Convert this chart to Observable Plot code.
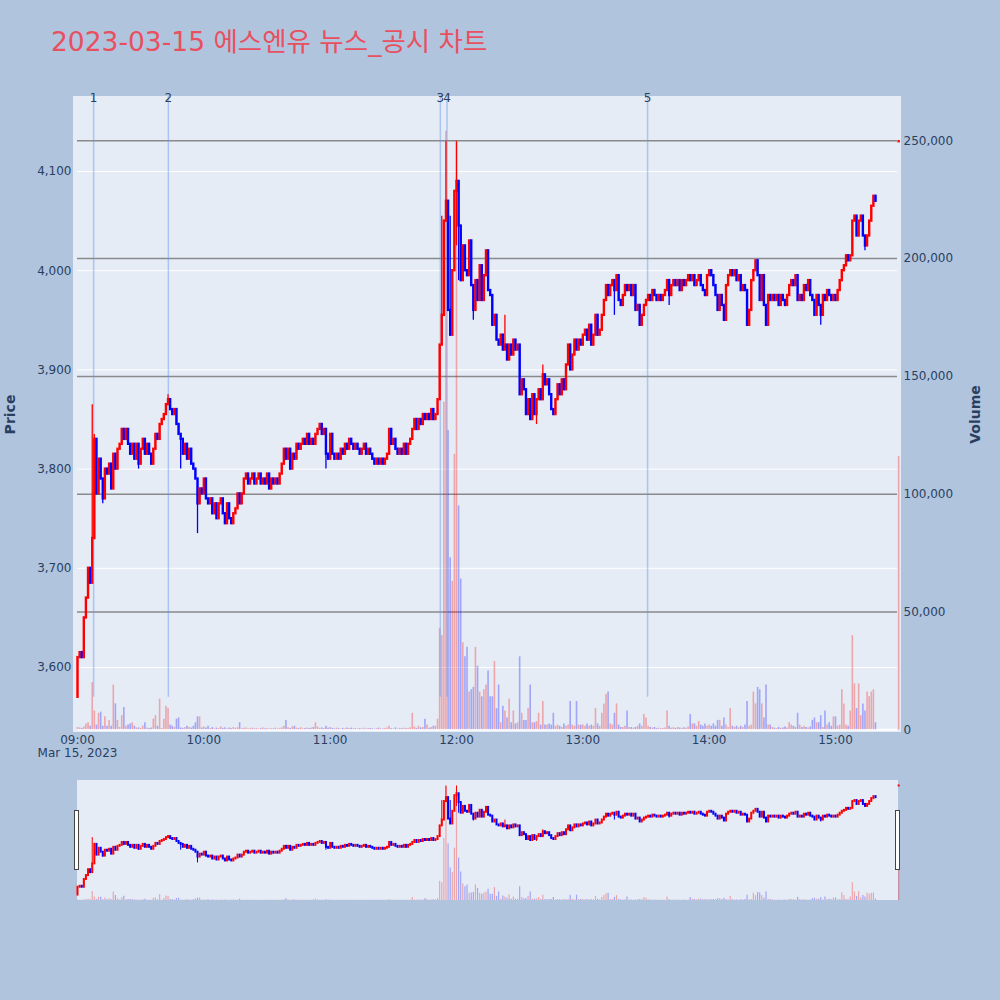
<!DOCTYPE html>
<html><head><meta charset="utf-8">
<script src="https://cdn.jsdelivr.net/npm/d3@7"></script>
<script src="https://cdn.jsdelivr.net/npm/@observablehq/plot@0.6"></script>
<style>
html,body{margin:0;padding:0;background:#B0C4DE;}
#root{position:relative;width:1000px;height:1000px;background:#B0C4DE;overflow:hidden;font-family:"DejaVu Sans",sans-serif;}
.abs{position:absolute;}
</style></head>
<body><div id="root"></div>
<script>
// ---------------- DATA ----------------
const chartTitle = "2023-03-15 에스엔유 뉴스_공시 차트";
const tradeDate = "2023-03-15";
const dateLabel = "Mar 15, 2023";
const sessionStart = "09:00";
const firstOpen = 3570;
// one close per minute from 09:00 (open of each minute = previous close)
const closes = [
3610,3615,3610,3650,3670,3700,3685,3730,3830,3775,
3810,3790,3770,3800,3795,3805,3780,3815,3800,3820,
3825,3840,3830,3840,3825,3815,3825,3810,3825,3805,
3820,3830,3815,3825,3815,3805,3820,3835,3830,3845,
3850,3855,3865,3870,3860,3855,3860,3845,3835,3830,
3815,3825,3810,3820,3805,3800,3790,3765,3780,3775,
3790,3770,3765,3770,3755,3765,3750,3765,3770,3755,
3745,3765,3750,3745,3755,3760,3775,3765,3775,3790,
3795,3785,3790,3795,3785,3790,3795,3785,3790,3785,
3795,3780,3790,3785,3790,3785,3795,3805,3820,3810,
3820,3800,3815,3810,3825,3820,3825,3830,3825,3835,
3825,3830,3825,3835,3840,3845,3835,3840,3815,3810,
3835,3815,3810,3815,3810,3820,3815,3825,3820,3830,
3825,3820,3825,3820,3815,3820,3825,3815,3820,3815,
3810,3805,3810,3805,3810,3805,3810,3815,3840,3825,
3830,3820,3815,3820,3815,3825,3815,3825,3830,3840,
3850,3840,3850,3845,3855,3850,3855,3850,3860,3850,
3855,3870,3925,3955,4050,4070,3960,3935,4000,4080,
4090,4045,3990,4025,4000,3995,4030,3985,3960,3990,
3970,4005,3970,3995,4020,3980,3975,3945,3955,3930,
3925,3935,3920,3925,3910,3925,3915,3930,3920,3925,
3875,3890,3880,3855,3870,3850,3875,3855,3870,3880,
3870,3895,3885,3890,3875,3860,3855,3870,3885,3875,
3890,3880,3905,3925,3900,3915,3930,3920,3930,3925,
3935,3940,3930,3945,3925,3935,3955,3935,3940,3955,
3970,3985,3975,3985,3990,3980,3995,3970,3965,3975,
3985,3980,3985,3975,3985,3960,3965,3945,3955,3965,
3970,3975,3970,3980,3975,3970,3975,3970,3975,3980,
3990,3975,3985,3990,3985,3990,3980,3990,3985,3990,
3995,3990,3995,3985,3990,3995,3985,3980,3975,3995,
4000,3995,3985,3975,3960,3975,3965,3950,3985,3995,
4000,3995,4000,3990,3995,3980,3985,3980,3945,3960,
3990,4000,4010,3995,3970,3995,3965,3945,3975,3970,
3975,3970,3975,3965,3975,3970,3965,3975,3985,3990,
3985,3995,3970,3975,3970,3985,3980,3990,3975,3970,
3955,3975,3965,3955,3975,3970,3980,3975,3970,3975,
3970,3980,3990,4000,4005,4015,4010,4015,4050,4055,
4035,4050,4055,4035,4025,4035,4050,4065,4075,4070
];
const volumes = [
1000,800,600,1200,2500,3000,1500,20000,8000,2000,
7000,7500,1500,5500,1500,4000,1500,19000,11000,4000,
1000,6000,9500,1500,2000,2500,3000,1500,800,800,
600,1500,3000,800,600,800,4500,6000,1500,13000,
600,4500,10000,9000,2000,1500,1000,4500,5000,800,
600,1000,1500,1000,800,1500,3000,5500,5500,800,
1200,800,1500,600,900,400,700,500,1200,600,
900,400,800,500,1000,600,900,3000,500,700,
800,300,500,700,400,600,300,500,800,400,
600,300,500,400,700,300,600,800,1500,4000,
900,600,1200,1500,700,500,900,400,600,800,
500,700,1000,3000,1200,600,800,500,1500,700,
1000,600,400,700,500,300,600,400,800,500,
700,400,600,300,500,400,700,300,500,600,
400,300,500,700,400,300,600,800,1500,500,
400,800,300,600,500,700,400,600,900,7000,
1200,600,1500,800,1000,4500,2000,700,1000,1500,
1500,4500,43000,40000,139000,254000,127000,73000,63000,117000,
250000,95000,64000,37000,31000,35000,16000,17000,18000,35000,
27000,16000,14000,17000,19000,25000,14000,14000,29000,9000,
19000,3000,10000,8000,5000,13000,3000,8000,2500,3000,
31000,7000,4000,4000,9000,19000,3000,3000,3500,7000,
2000,12000,2000,2000,2500,2000,7000,1500,2000,1500,
1000,2500,1500,2000,12000,2000,1500,12000,2000,2000,
2000,1500,2500,1500,2000,1500,9000,2500,1500,7000,
11000,15000,16000,2500,2000,7000,11000,2000,1000,1000,
1500,8000,1000,1000,700,1000,1500,2500,1500,6500,
5000,1500,1000,700,1000,500,700,400,600,800,
8000,1500,700,900,600,1000,800,600,900,700,
1200,6500,2500,2500,1500,3500,2000,1500,2500,1500,
2000,1500,2500,1500,4000,4000,1500,5000,2000,1000,
9000,1500,1000,1500,800,1500,1000,2000,12000,1500,
2000,16000,11000,18000,17000,11000,5000,19000,2000,2000,
1000,700,500,1000,600,800,1200,800,3000,2000,
1500,1000,7000,2000,1000,1500,1000,800,1200,4000,
5000,3000,3000,6000,1000,8000,2000,3000,1500,5500,
5500,1500,2000,17000,11000,2000,1500,8000,40000,19500,
9000,19500,6000,11000,8000,16000,14000,16000,17000,3000
];
// notable wicks: [minute index, price]
const wickHighs = [[7,3865],[8,3835],[43,3875],[173,4055],[175,4130],[177,4055],[180,4130],[203,3955],[221,3905],[322,4010]];
const wickLows  = [[12,3765],[29,3800],[49,3800],[57,3735],[118,3800],[180,4025],[181,3990],[188,3950],[218,3845],[255,3955],[281,3965],[353,3945],[374,4020]];
// closing auction
const auctionTime = "15:30";
const auctionPrice = 4130;
const auctionVolume = 116000;
// news / disclosure markers
const newsTimes  = ["09:07:40","09:43:10","11:52:20","11:55:30","13:30:45"];
const newsLabels = ["1","2","3","4","5"];
// ticks
const priceTicks  = [3600,3700,3800,3900,4000,4100];
const volumeTicks = [0,50000,100000,150000,200000,250000];
const timeTicks   = ["09:00","10:00","11:00","12:00","13:00","14:00","15:00"];

// ---------------- BUILD ----------------
const UP = "#FF0000", DOWN = "#0000FF";
const minute = 60000;
const at = s => new Date(`${tradeDate}T${s.length === 5 ? s + ":00" : s}`);
const t0 = at(sessionStart);
const hiMap = new Map(wickHighs), loMap = new Map(wickLows);
const candles = closes.map((c, i) => {
  const o = i === 0 ? firstOpen : closes[i - 1];
  const h = Math.max(o, c, hiMap.has(i) ? hiMap.get(i) : -Infinity);
  const l = Math.min(o, c, loMap.has(i) ? loMap.get(i) : Infinity);
  return {t: new Date(+t0 + i * minute), o, h, l, c, v: volumes[i], up: c > o};
});
candles.push({t: at(auctionTime), o: auctionPrice, h: auctionPrice, l: auctionPrice, c: auctionPrice,
  v: auctionVolume, up: auctionPrice >= closes[closes.length - 1]});
const news = newsTimes.map((s, i) => ({t: at(s), label: newsLabels[i]}));
const lowest = d3.min(candles, d => d.l);

const xDomain = [t0, new Date(+t0 + 389.45 * minute)];
const priceDomain = [3534.5, 4175.6];
const volumeDomain = [-1146, 268800];
const sliderPriceDomain = [3542, 4158];
const sliderVolumeDomain = [0, 268800];
const col = d => d.up ? UP : DOWN;

const root = document.getElementById("root");
function place(el, top, left) {
  el.style.position = "absolute"; el.style.top = top + "px"; el.style.left = (left || 0) + "px";
  root.appendChild(el); return el;
}
function box(l, t, w, h, css) {
  const d = document.createElement("div");
  d.className = "abs";
  Object.assign(d.style, {left: l + "px", top: t + "px", width: w + "px", height: h + "px"}, css);
  root.appendChild(d); return d;
}

const baseStyle = {background: "transparent", fontFamily: "DejaVu Sans, sans-serif", fontSize: "12px", color: "#2a3f5f", overflow: "visible"};
const common = {width: 1000, height: 780, marginLeft: 77, marginRight: 103, marginTop: 96, marginBottom: 48, style: baseStyle};

// plot background
box(73, 96, 828, 636, {background: "#E5ECF6"});

// A: price grid + axes
place(Plot.plot({
  ...common,
  x: {type: "time", domain: xDomain, ticks: timeTicks.map(at), tickFormat: d3.timeFormat("%H:%M"), tickSize: 0, tickPadding: 3, label: null},
  y: {domain: priceDomain, ticks: priceTicks, tickFormat: d3.format(","), tickSize: 0, tickPadding: 6, label: null},
  marks: [
    Plot.ruleY(priceTicks, {stroke: "white", strokeWidth: 1}),
    Plot.text([dateLabel], {x: () => t0, frameAnchor: "bottom", dy: 24.5, text: d => d, fill: "#2a3f5f", fontSize: 12}),
    Plot.text(["Price"], {frameAnchor: "left", dx: -67, rotate: -90, textAnchor: "middle", text: d => d, fontSize: 14, fontWeight: "bold", fill: "#2a3f5f"})
  ]
}), 0);

// B: volume grid + bars + right axis
place(Plot.plot({
  ...common,
  x: {type: "time", domain: xDomain, axis: null},
  y: {domain: volumeDomain, axis: "right", ticks: volumeTicks, tickFormat: d3.format(","), tickSize: 0, tickPadding: 6, label: null},
  color: {type: "identity"},
  marks: [
    Plot.ruleY(volumeTicks.filter(v => v > 0), {stroke: "#8a8a8a", strokeWidth: 1.5}),
    Plot.ruleY([0], {stroke: "white", strokeWidth: 2}),
    Plot.ruleX(candles, {x: "t", y1: 0, y2: "v", stroke: col, strokeOpacity: 0.3, strokeWidth: 1.6}),
    Plot.text(["Volume"], {frameAnchor: "right", dx: 78, rotate: -90, textAnchor: "middle", text: d => d, fontSize: 14, fontWeight: "bold", fill: "#2a3f5f"})
  ]
}), 0);

// C: candles + news markers
place(Plot.plot({
  ...common,
  x: {type: "time", domain: xDomain, axis: null},
  y: {domain: priceDomain, axis: null},
  color: {type: "identity"},
  marks: [
    Plot.ruleX(news, {x: "t", y1: lowest, y2: priceDomain[1], stroke: "#6495ED", strokeOpacity: 0.45, strokeWidth: 1.5}),
    Plot.ruleX(candles, {x: "t", y1: "l", y2: "h", stroke: col, strokeWidth: 1.3}),
    Plot.ruleX(candles, {x: "t", y1: "o", y2: "c", stroke: col, strokeWidth: 2.4, strokeLinecap: "square"}),
    Plot.text(news, {x: "t", frameAnchor: "top", dy: -3, text: "label", fill: "#2a3f5f", fontSize: 12})
  ]
}), 0);

// range slider
box(77, 780, 821, 120, {background: "#E5ECF6"});
const sliderCommon = {width: 1000, height: 120, marginLeft: 77, marginRight: 103, marginTop: 0, marginBottom: 0, style: baseStyle};
place(Plot.plot({
  ...sliderCommon,
  x: {type: "time", domain: xDomain, axis: null},
  y: {domain: sliderVolumeDomain, axis: null},
  color: {type: "identity"},
  marks: [Plot.ruleX(candles, {x: "t", y1: 0, y2: "v", stroke: col, strokeOpacity: 0.3, strokeWidth: 1.2})]
}), 780);
place(Plot.plot({
  ...sliderCommon,
  x: {type: "time", domain: xDomain, axis: null},
  y: {domain: sliderPriceDomain, axis: null},
  color: {type: "identity"},
  marks: [
    Plot.ruleX(candles, {x: "t", y1: "l", y2: "h", stroke: col, strokeWidth: 1}),
    Plot.ruleX(candles, {x: "t", y1: "o", y2: "c", stroke: col, strokeWidth: 2, strokeLinecap: "square"})
  ]
}), 780);
box(74, 810, 3, 58, {background: "#fff", border: "1px solid #444"});
box(895, 810, 3, 58, {background: "#fff", border: "1px solid #444"});

// title
const ns = "http://www.w3.org/2000/svg";
const tsvg = document.createElementNS(ns, "svg");
tsvg.setAttribute("width", 1000); tsvg.setAttribute("height", 70);
const tt = document.createElementNS(ns, "text");
tt.setAttribute("x", 51); tt.setAttribute("y", 51);
tt.setAttribute("fill", "#E8505F");
tt.setAttribute("font-size", "26.5");
tt.setAttribute("font-family", "DejaVu Sans, Noto Sans CJK KR, sans-serif");
tt.textContent = chartTitle;
tsvg.appendChild(tt);
place(tsvg, 0);
</script></body></html>
